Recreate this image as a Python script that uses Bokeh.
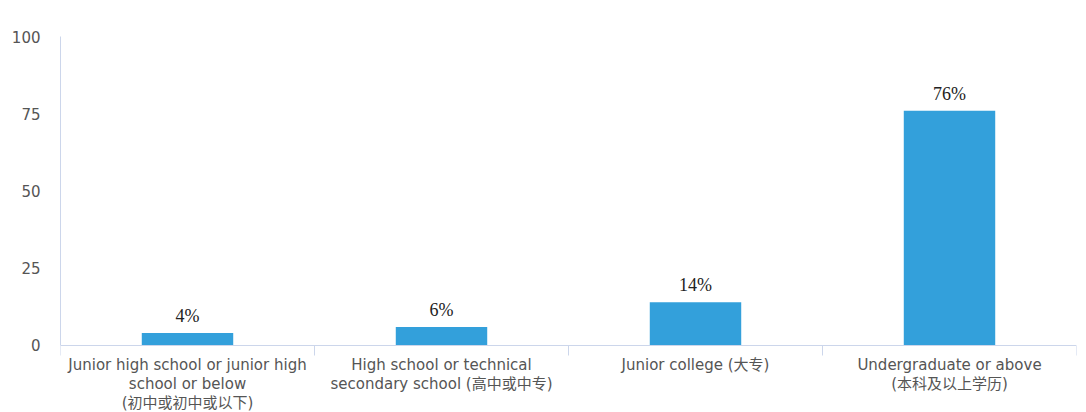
from bokeh.plotting import figure
from bokeh.models import Range1d, FixedTicker, ColumnDataSource
from bokeh.core.properties import value
from bokeh.embed import file_html
from bokeh.resources import INLINE

categories = [
    "Junior high school or junior high\nschool or below\n(初中或初中或以下)",
    "High school or technical\nsecondary school (高中或中专)",
    "Junior college (大专)",
    "Undergraduate or above\n(本科及以上学历)",
]
values = [4, 6, 14, 76]
value_labels = ["4%", "6%", "14%", "76%"]
y_ticks = [0, 25, 50, 75, 100]

xs = [i + 0.5 for i in range(len(categories))]
src = ColumnDataSource(dict(x=xs, top=values, lab=value_labels))
cat_src = ColumnDataSource(dict(x=xs, y=[0] * len(xs), cat=categories))

FONT = "'DejaVu Sans', 'Noto Sans CJK SC'"

p = figure(width=1086, height=412, output_backend="svg", toolbar_location=None,
           x_range=Range1d(0, len(categories)), y_range=Range1d(-21.7, 100),
           min_border_left=60, min_border_right=10, min_border_top=36, min_border_bottom=0)
p.outline_line_color = None
p.grid.grid_line_color = None

p.vbar(x="x", top="top", width=0.36, source=src, color="#33a0db", line_color=None)
p.text(x="x", y="top", text="lab", source=src, text_align="center", text_baseline="bottom",
       y_offset=-7, text_font=value("'Liberation Serif', 'DejaVu Serif'"),
       text_font_size="18px", text_color="#222222")
p.text(x="x", y="y", text="cat", source=cat_src, text_align="center", text_baseline="top",
       y_offset=11, text_font=value(FONT), text_font_size="15px",
       text_color="#555555", text_line_height=1.03)

xa = p.xaxis[0]
xa.fixed_location = 0
xa.ticker = FixedTicker(ticks=xs, minor_ticks=list(range(len(categories) + 1)))
xa.major_label_overrides = {x: "" for x in xs}
xa.major_label_text_font_size = "0px"
xa.major_label_standoff = 0
xa.major_tick_line_color = None
xa.minor_tick_out = 10
xa.minor_tick_in = 0
xa.minor_tick_line_color = "#ccd6eb"
xa.axis_line_color = "#ccd6eb"

ya = p.yaxis[0]
ya.bounds = (0, 100)
ya.ticker = FixedTicker(ticks=y_ticks)
ya.major_tick_line_color = None
ya.minor_tick_line_color = None
ya.axis_line_color = "#ccd6eb"
ya.major_label_text_font = FONT
ya.major_label_text_font_size = "15px"
ya.major_label_text_color = "#555555"
ya.major_label_standoff = 14

open("out.html", "w").write(file_html(p, INLINE))
